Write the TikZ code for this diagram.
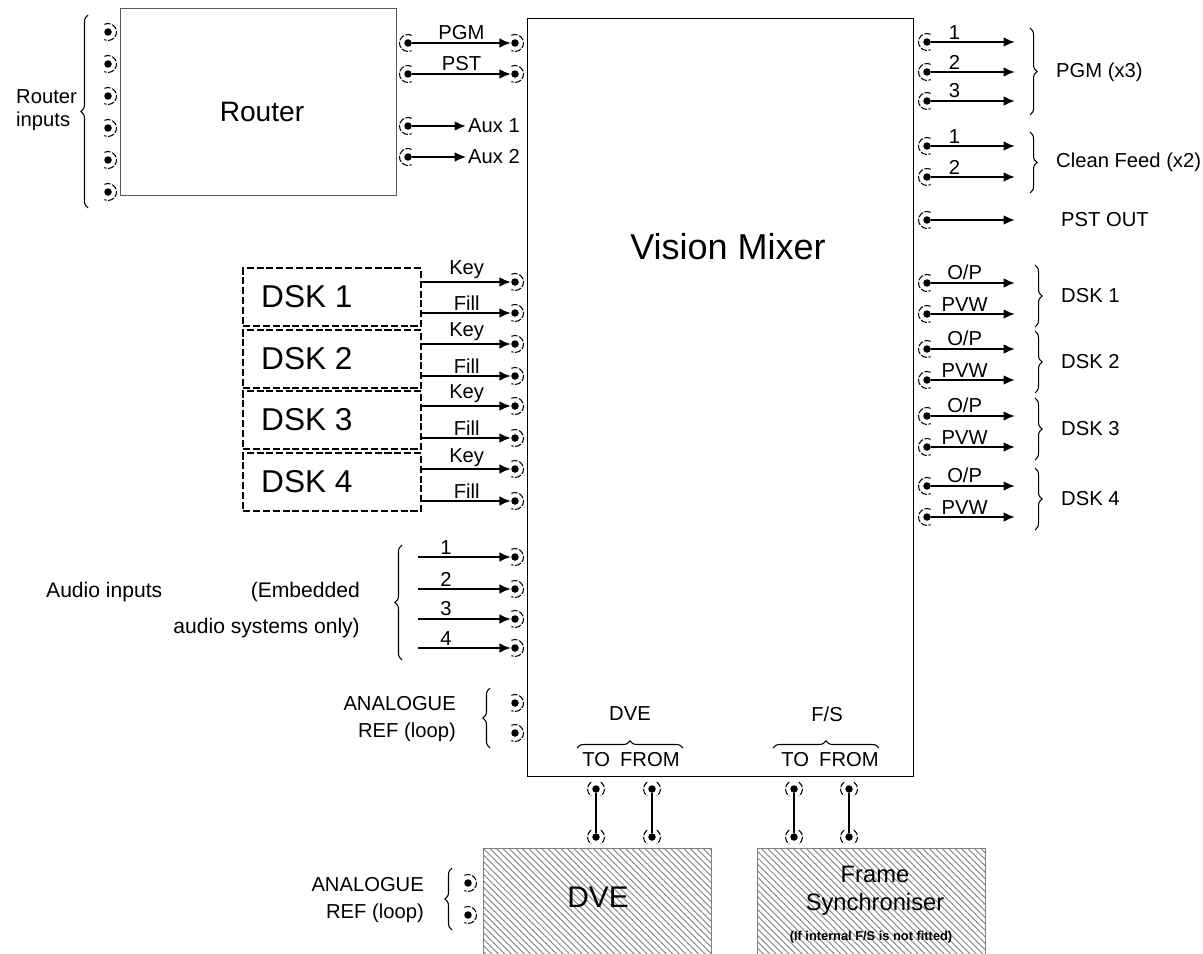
\documentclass[tikz,border=0pt]{standalone}
\usepackage{fontspec}
\setmainfont{Liberation Sans}
\usepackage{tikz}
\usetikzlibrary{arrows.meta,positioning,calc,decorations.pathreplacing,patterns.meta}
\newcommand\lblfont{\fontsize{11.5}{13}\selectfont}
\newcommand\audfont{\fontsize{12}{20}\selectfont}

\begin{document}
\begin{tikzpicture}[x=0.02cm,y=-0.02cm,font=\lblfont,
   jack/.style={circle,fill,inner sep=0pt,minimum size=0.15cm},
   ring/.style={line width=0.6pt,dash pattern=on 3.6pt off 0.9pt},
   sig/.style={-{Latex[length=6.5pt,width=5.5pt]},line width=1.2pt},
   brc/.style={decorate,decoration={brace,amplitude=4pt},line width=0.6pt},
   dskbox/.style={draw,line width=1.4pt,dash pattern=on 4pt off 1.6pt,
               minimum width=3.56cm,minimum height=1.16cm,anchor=north west,inner sep=0pt},
   hatchbox/.style={draw=gray,line width=0.8pt,anchor=north west,minimum width=4.56cm,
               minimum height=2.6cm,pattern={Lines[angle=-45,distance=2.6pt,line width=0.6pt]},
               pattern color=black!45}]
  \useasboundingbox (0,0) rectangle (1203,953);
  \clip (0,0) rectangle (1203,953);

  % router
  \node[draw=gray!70!black,line width=0.7pt,anchor=north west,minimum width=5.52cm,
        minimum height=3.74cm] (router) at (120,8) {};
  \node[font=\fontsize{16}{18}\selectfont] (routertext) at (262,112) {Router};
  \foreach \i in {1,...,6}
    \node[jack] (in\i) at (108,{32*\i}) {};
  \draw[brc] (88,208) -- (88,15);
  \node[anchor=west,align=left] (inputstext) at (10,110) {Router\\inputs};

  \node[jack] (pgmout) at (408,43) {};
  \node[jack] (pstout) at (408,74) {};
  \node[jack] (aux1out) at (408,126) {};
  \node[jack] (aux2out) at (408,157) {};
  \node[jack] (pgmin) at (515,43) {};
  \node[jack] (pstin) at (515,74) {};
  \draw[sig] (pgmout) -- (pgmin) node[midway,above,inner sep=1pt]{PGM};
  \draw[sig] (pstout) -- (pstin) node[midway,above,inner sep=1pt]{PST};
  \node[anchor=west,inner sep=1pt] (aux1) at (466,126) {Aux 1};
  \node[anchor=west,inner sep=1pt] (aux2) at (466,157) {Aux 2};
  \draw[sig] (aux1out) -- (aux1);
  \draw[sig,line width=0.8pt] (aux2out) -- (aux2);

  % vision mixer
  \node[draw,line width=0.8pt,anchor=north west,minimum width=7.72cm,
        minimum height=15.16cm] (vm) at (527,18) {};
  \node[font=\fontsize{20.5}{24}\selectfont] (vmtext) at (728,247) {Vision Mixer};

  % outputs
  \coordinate (outend) at (1015,0);
  \foreach \n/\y/\t in {pgm1/42/1,pgm2/72/2,pgm3/101/3,cf1/146/1,cf2/177/2}{
    \node[jack] (\n) at (927,\y) {};
    \draw[sig] (\n) -- (\n -| outend) node[pos=.28,above,inner sep=1pt]{\t};
  }
  \node[jack] (pst) at (927,220) {};
  \draw[sig] (pst) -- (pst -| outend);
  \node[anchor=west] (psttext) at (1055,220) {PST OUT};
  \draw[brc] (1030,28) -- (1030,115);
  \node[anchor=west] (pgmtext) at (1050,72) {PGM (x3)};
  \draw[brc] (1030,132) -- (1030,193);
  \node[anchor=west] (cftext) at (1050,162) {Clean Feed (x2)};

  \foreach \k/\y in {1/283,2/349,3/416,4/486}{
    \node[jack] (op\k) at (927,\y) {};
    \node[jack] (pvw\k) at (927,{\y+31}) {};
    \draw[sig] (op\k) -- (op\k -| outend) node[pos=.4,above,inner sep=1pt]{O/P};
    \draw[sig] (pvw\k) -- (pvw\k -| outend) node[pos=.4,above,inner sep=1pt]{PVW};
    \draw[brc] (1035,{\y-18}) -- (1035,{\y+44});
    \node[anchor=west] (dsklbl\k) at (1055,{\y+13}) {DSK \k};
  }

  % downstream keyers
  \foreach \k/\y in {1/267,2/329,3/390,4/452}{
    \node[dskbox] (dsk\k) at (242,\y) {};
    \node[anchor=west,font=\fontsize{18}{20}\selectfont] (dsktext\k) at (255,{\y+30}) {DSK \k};
  }
  \foreach \k/\a/\b in {1/282/313,2/344/376,3/406/438,4/469/501}{
    \node[jack] (key\k) at (515,\a) {};
    \node[jack] (fill\k) at (515,\b) {};
    \draw[sig] (dsk\k.east |- key\k) -- (key\k) node[midway,above,inner sep=1pt]{Key};
    \draw[sig] (dsk\k.east |- fill\k) -- (fill\k) node[midway,above,inner sep=1pt]{Fill};
  }

  % audio
  \foreach \k/\y in {1/557,2/589,3/619,4/648}{
    \node[jack] (aud\k) at (515,\y) {};
    \coordinate (audsrc\k) at (418,\y);
    \draw[sig] (audsrc\k) -- (aud\k) node[pos=.3,above,inner sep=1pt]{\k};
  }
  \draw[brc] (402,660) -- (402,545);
  \node[anchor=west,font=\audfont] (audtext) at (40,592) {Audio inputs};
  \node[anchor=east,align=right,font=\audfont] (embtext) at (366,610)
       {(Embedded\\audio systems only)};

  % reference
  \node[jack] (ref1) at (515,703) {};
  \node[jack] (ref2) at (515,733) {};
  \draw[brc] (490,748) -- (490,688);
  \node[anchor=east,align=right,font=\fontsize{11.5}{15.5}\selectfont] (reftext) at (462,719)
       {ANALOGUE\\REF (loop)};

  % DVE and F/S loops
  \node (dvelbl) at (630,714) {DVE};
  \draw[brc] (577,748) -- (683,748);
  \node (dvetofrom) at (631,760) {TO\enspace FROM};
  \node (fslbl) at (827,714) {F/S};
  \draw[brc] (773,748) -- (879,748);
  \node (fstofrom) at (830,760) {TO\enspace FROM};
  \foreach \n/\x in {dveto/596,dvefrom/652,fsto/794,fsfrom/849}{
    \node[jack] (\n1) at (\x,789) {};
    \node[jack] (\n2) at (\x,837) {};
    \draw[line width=1pt] (\n1) -- (\n2);
  }

  \node[hatchbox] (dve) at (483,848) {};
  \node[font=\fontsize{17}{20}\selectfont] (dvetext) at (598,897) {DVE};
  \node[hatchbox] (fs) at (757,848) {};
  \node[align=center,font=\fontsize{13.5}{16}\selectfont] (fstext) at (875,891)
       {Frame\\Synchroniser};
  \node[font=\bfseries\fontsize{7.3}{9}\selectfont] (fsnote) at (871,937)
       {(If internal F/S is not fitted)};
  \node[jack] (dref1) at (468,883) {};
  \node[jack] (dref2) at (468,915) {};
  \draw[brc] (452,930) -- (452,868);
  \node[anchor=east,align=right,font=\fontsize{11.5}{15}\selectfont] (dreftext) at (430,900)
       {ANALOGUE\\REF (loop)};

  % rings round the jacks
  \foreach \j in {in1,in2,in3,in4,in5,in6,pgmin,pstin,key1,key2,key3,key4,
                  fill1,fill2,fill3,fill4,aud1,aud2,aud3,aud4,ref1,ref2,dref1,dref2}
    \draw[ring] (\j) ++(115:0.17cm) arc[start angle=115,end angle=-115,radius=0.17cm];
  \foreach \j in {pgmout,pstout,aux1out,aux2out,pgm1,pgm2,pgm3,cf1,cf2,pst,
                  op1,op2,op3,op4,pvw1,pvw2,pvw3,pvw4}
    \draw[ring] (\j) ++(65:0.17cm) arc[start angle=65,end angle=295,radius=0.17cm];
  \foreach \j in {dveto1,dveto2,dvefrom1,dvefrom2,fsto1,fsto2,fsfrom1,fsfrom2}{
    \draw[ring] (\j) ++(125:0.17cm) arc[start angle=125,end angle=235,radius=0.17cm];
    \draw[ring] (\j) ++(55:0.17cm) arc[start angle=55,end angle=-55,radius=0.17cm];
  }
\end{tikzpicture}
\end{document}
